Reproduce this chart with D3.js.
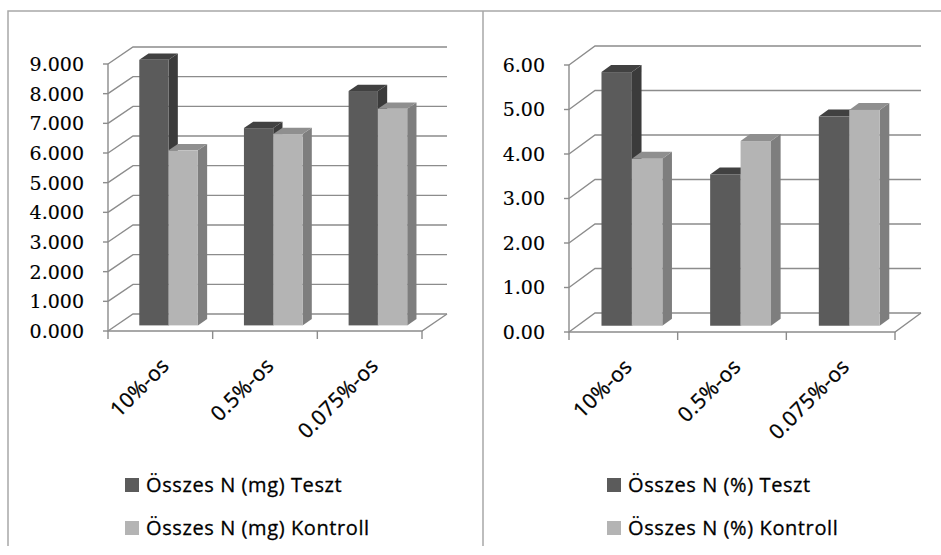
<!DOCTYPE html>
<html>
<head>
<meta charset="utf-8">
<script src="https://cdn.jsdelivr.net/npm/d3@7"></script>
<style>
  body { margin: 0; background: #fff; }
  svg { display: block; }
  .ylab { font-family: "DejaVu Serif", serif; font-size: 19px; fill: #000; stroke: #000; stroke-width: 0.15px; }
  .xlab { font-family: "Open Sans", sans-serif; font-size: 21px; fill: #000; stroke: #000; stroke-width: 0.3px; letter-spacing: 0.3px; }
  .leg { font-family: "Open Sans", sans-serif; font-size: 20px; fill: #000; stroke: #000; stroke-width: 0.3px; letter-spacing: 0.6px; }
</style>
</head>
<body>
<svg id="chart" width="941" height="555"></svg>
<script>
var categories = ["10%-os", "0.5%-os", "0.075%-os"];

var mgTeszt = [8.95, 6.65, 7.9];
var mgKontroll = [5.9, 6.45, 7.3];
var mgTicks = [0, 1, 2, 3, 4, 5, 6, 7, 8, 9];
var mgNames = ["Összes N (mg) Teszt", "Összes N (mg) Kontroll"];

var pctTeszt = [5.7, 3.4, 4.7];
var pctKontroll = [3.75, 4.15, 4.85];
var pctTicks = [0, 1, 2, 3, 4, 5, 6];
var pctNames = ["Összes N (%) Teszt", "Összes N (%) Kontroll"];

// front, top, side shades for each series
var shades = [
  {front: "#5b5b5b", top: "#414141", side: "#3b3b3b", key: "#5b5b5b"},
  {front: "#b4b4b4", top: "#8f8f8f", side: "#7e7e7e", key: "#b4b4b4"}
];

var svg = d3.select("#chart");

// panel frames
svg.append("path")
    .attr("d", "M8,546V11H941M483,11V546")
    .attr("fill", "none")
    .attr("stroke", "#a8a8a8")
    .attr("stroke-width", 1.5);

function drawPanel(cfg) {
  var g = svg.append("g");
  var dx = cfg.dx, dy = cfg.dy;

  var x = d3.scaleBand().domain(categories).range([cfg.x0, cfg.x1]);
  var y = d3.scaleLinear().domain([0, d3.max(cfg.ticks)]).range([cfg.y0, cfg.yTop]);

  // back wall gridlines with the diagonal on the side wall
  g.selectAll("path.grid")
    .data(cfg.ticks)
    .enter().append("path")
    .attr("class", "grid")
    .attr("d", function(t) {
      return "M" + cfg.x0 + "," + y(t) +
             "L" + (cfg.x0 + dx) + "," + (y(t) + dy) +
             "H" + (cfg.x1 + dx);
    })
    .attr("fill", "none")
    .attr("stroke", "#8c8c8c")
    .attr("stroke-width", 1.4);

  // floor edges and front axis
  g.append("path")
    .attr("d", "M" + cfg.x0 + "," + cfg.yTop + "V" + cfg.y0 + "H" + cfg.x1 +
               "L" + (cfg.x1 + dx) + "," + (cfg.y0 + dy))
    .attr("fill", "none")
    .attr("stroke", "#8c8c8c")
    .attr("stroke-width", 1.4);

  // y ticks
  g.selectAll("line.ytick")
    .data(cfg.ticks)
    .enter().append("line")
    .attr("x1", cfg.x0 - 5).attr("x2", cfg.x0)
    .attr("y1", function(t) { return y(t); })
    .attr("y2", function(t) { return y(t); })
    .attr("stroke", "#8c8c8c")
    .attr("stroke-width", 1.4);

  g.selectAll("text.ylab")
    .data(cfg.ticks)
    .enter().append("text")
    .attr("class", "ylab")
    .attr("x", cfg.x0 - 24)
    .attr("y", function(t) { return y(t); })
    .attr("dy", "0.36em")
    .attr("text-anchor", "end")
    .text(function(t) { return d3.format(cfg.fmt)(t); });

  // category ticks
  var edges = categories.map(function(c) { return x(c); }).concat([cfg.x1]);
  g.selectAll("line.xtick")
    .data(edges)
    .enter().append("line")
    .attr("x1", function(d) { return d; })
    .attr("x2", function(d) { return d; })
    .attr("y1", cfg.y0).attr("y2", cfg.y0 + 8)
    .attr("stroke", "#8c8c8c")
    .attr("stroke-width", 1.4);

  g.selectAll("text.xlab")
    .data(categories)
    .enter().append("text")
    .attr("class", "xlab")
    .attr("text-anchor", "end")
    .attr("transform", function(c) {
      return "translate(" + (x(c) + x.bandwidth() / 2 + 10) + "," + (cfg.y0 + 36) + ") rotate(-45)";
    })
    .text(function(c) { return c; });

  // 3d bars
  var bw = x.bandwidth() * 0.28;
  var off = (x.bandwidth() - 2 * bw) / 2;
  var f0 = 0.33, f1 = 0.7;
  var ddx = (f1 - f0) * dx, ddy = (f1 - f0) * dy;

  var bars = [];
  categories.forEach(function(c, ci) {
    cfg.series.forEach(function(s, si) {
      var xl = x(c) + off + si * bw + f0 * dx;
      bars.push({
        xl: xl, xr: xl + bw,
        yt: y(s[ci]) + f0 * dy,
        yb: cfg.y0 + f0 * dy,
        shade: shades[si]
      });
    });
  });

  var bar = g.selectAll("g.bar")
    .data(bars)
    .enter().append("g")
    .attr("class", "bar");

  bar.append("path")
    .attr("d", function(b) {
      return "M" + b.xr + "," + b.yt + "L" + (b.xr + ddx) + "," + (b.yt + ddy) +
             "V" + (b.yb + ddy) + "L" + b.xr + "," + b.yb + "Z";
    })
    .attr("fill", function(b) { return b.shade.side; });

  bar.append("path")
    .attr("d", function(b) {
      return "M" + b.xl + "," + b.yt + "L" + (b.xl + ddx) + "," + (b.yt + ddy) +
             "H" + (b.xr + ddx) + "L" + b.xr + "," + b.yt + "Z";
    })
    .attr("fill", function(b) { return b.shade.top; });

  bar.append("rect")
    .attr("x", function(b) { return b.xl; })
    .attr("y", function(b) { return b.yt; })
    .attr("width", bw)
    .attr("height", function(b) { return b.yb - b.yt; })
    .attr("fill", function(b) { return b.shade.front; });

  // legend
  var leg = g.selectAll("g.legitem")
    .data(cfg.names)
    .enter().append("g")
    .attr("class", "legitem")
    .attr("transform", function(d, i) { return "translate(" + cfg.legX + "," + (cfg.legY + i * 43) + ")"; });

  leg.append("rect")
    .attr("x", 0).attr("y", -14)
    .attr("width", 14).attr("height", 14)
    .attr("fill", function(d, i) { return shades[i].key; });

  leg.append("text")
    .attr("class", "leg")
    .attr("x", 21)
    .attr("y", 0)
    .text(function(d) { return d; });
}

drawPanel({
  x0: 108, x1: 422, y0: 331, yTop: 64, dx: 25, dy: -17,
  ticks: mgTicks, fmt: ".3f",
  series: [mgTeszt, mgKontroll], names: mgNames,
  legX: 125, legY: 492
});

drawPanel({
  x0: 569, x1: 895, y0: 332, yTop: 65, dx: 26, dy: -19,
  ticks: pctTicks, fmt: ".2f",
  series: [pctTeszt, pctKontroll], names: pctNames,
  legX: 607, legY: 492
});
</script>
</body>
</html>
